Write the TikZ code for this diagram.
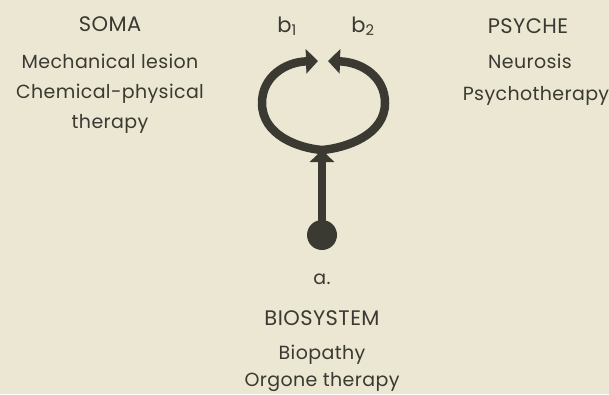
\documentclass[tikz,border=0pt]{standalone}
\usepackage{fontspec}
\setmainfont{Poppins}[LetterSpace=2]
\usetikzlibrary{arrows.meta}
\definecolor{bg}{HTML}{EBE7D3}
\definecolor{ink}{HTML}{3A3A32}
\begin{document}
\begin{tikzpicture}[x=1pt,y=-1pt,
  txt/.style={text=ink,font=\fontsize{19}{24}\selectfont,anchor=base,inner sep=0pt},
  ttl/.style={text=ink,font=\fontsize{21}{24}\selectfont,anchor=base,inner sep=0pt},
  thick line/.style={draw=ink,line width=8.5pt},
  tip/.style={-{Triangle[length=12pt,width=24pt]}}]
\fill[bg] (0,0) rectangle (609,394);
\useasboundingbox (0,0) rectangle (609,394);
% left column
\node[ttl] (soma) at (110,31) {SOMA};
\node[txt] (s1) at (110,68) {Mechanical lesion};
\node[txt] (s2) at (110,98) {Chemical-physical};
\node[txt] (s3) at (110,128) {therapy};
% right column
\node[ttl] (psyche) at (528,33) {PSYCHE};
\node[txt] (p1) at (530,68) {Neurosis};
\node[txt] (p2) at (536,100) {Psychotherapy};
% b labels
\node[ttl] (b1) at (287,32) {b\textsubscript{1}};
\node[ttl] (b2) at (363,32) {b\textsubscript{2}};
% bottom
\node[txt] (alab) at (322,284) {a.};
\node[ttl] (bio) at (322,325) {BIOSYSTEM};
\node[txt] (bt1) at (322,359) {Biopathy};
\node[txt] (bt2) at (322,386) {Orgone therapy};
% diagram
\node[circle,fill=ink,minimum size=30pt,inner sep=0pt] (dot) at (322,235) {};
\coordinate (J) at (322,150);
\coordinate (L) at (318,61);
\coordinate (R) at (328,61);
\draw[thick line,tip] (J) .. controls (298,148) and (262,135) .. (262,103)
   .. controls (262,77) and (285,62) .. (L);
\draw[thick line,tip] (J) .. controls (346,148) and (385,135) .. (385,103)
   .. controls (385,77) and (362,62) .. (R);
\draw[thick line,tip] (dot.center) -- (J);
\end{tikzpicture}
\end{document}
